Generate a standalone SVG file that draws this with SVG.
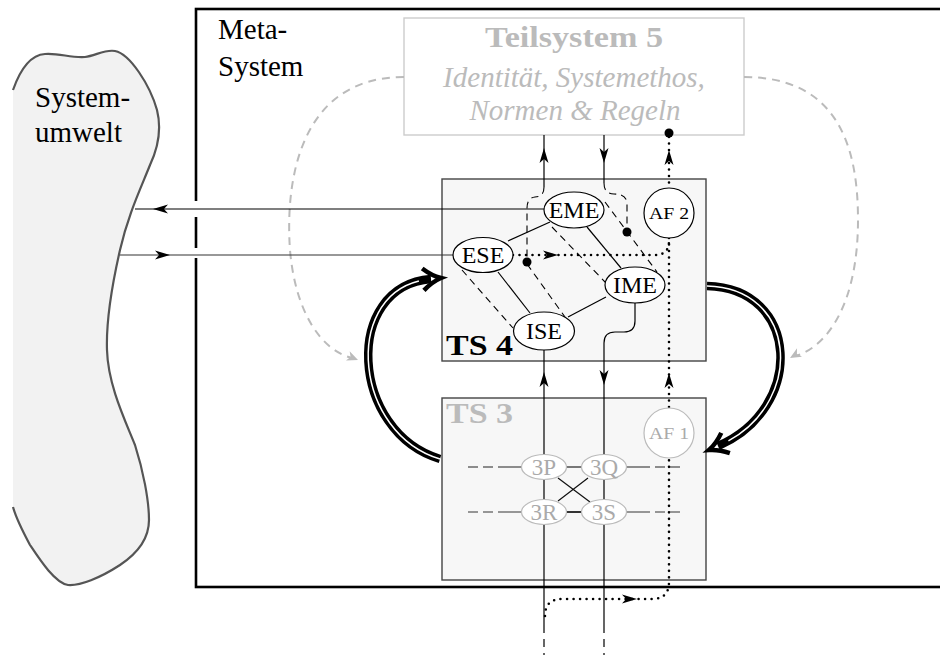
<svg xmlns="http://www.w3.org/2000/svg" xmlns:xlink="http://www.w3.org/1999/xlink" width="940" height="655" viewBox="0 0 940 655">
<style>
.t{font-family:"Liberation Serif","Times New Roman",serif;}
.thin{stroke:#000;stroke-width:1.2;fill:none}
.dash{stroke:#000;stroke-width:1.1;fill:none;stroke-dasharray:7 5}
.dot{stroke:#000;stroke-width:2.6;stroke-linecap:round;stroke-dasharray:0 6.5;fill:none}
.gdash{stroke:#bbb;stroke-width:2;stroke-dasharray:8 6;fill:none}
.node{fill:#fff;stroke:#000;stroke-width:1.2}
.gnode{fill:#fff;stroke:#bbb;stroke-width:1.2}
.lbl{font-family:"Liberation Serif","Times New Roman",serif;font-size:24px;text-anchor:middle}
.glbl{font-family:"Liberation Serif","Times New Roman",serif;font-size:23px;text-anchor:middle;fill:#aaa}
.box{fill:#f7f7f7;stroke:#444;stroke-width:1.4}
</style>
<defs>
<path id="ah" d="M0,0 L-15,-4.5 L-11,0 L-15,4.5 Z" fill="#000"/>
<path id="gah" d="M0,0 L-11,-5 L-8,0 L-11,5 Z" fill="#bbb"/>
<path id="bah" d="M-18,-11 Q-9,-3 0,0 Q-9,3 -18,11" fill="none" stroke="#000" stroke-width="4.5"/>
</defs>

<g id="umwelt">
<path d="M13,90 C20,70 30,55 45,54 C60,53 70,58 85,57 C95,56 105,49 115,51 C130,54 150,85 157,110 C162,130 157,150 150,165 C140,190 128,215 120,250 C112,285 106,320 107,350 C108,385 125,420 135,445 C143,470 149,500 149,520 C149,540 135,555 120,565 C100,578 80,586 68,585 C55,583 40,560 30,545 C22,530 16,518 13,507 Z" fill="#f2f2f2" stroke="none"/>
<path d="M13,90 C20,70 30,55 45,54 C60,53 70,58 85,57 C95,56 105,49 115,51 C130,54 150,85 157,110 C162,130 157,150 150,165 C140,190 128,215 120,250 C112,285 106,320 107,350 C108,385 125,420 135,445 C143,470 149,500 149,520 C149,540 135,555 120,565 C100,578 80,586 68,585 C55,583 40,560 30,545 C22,530 16,518 13,507" fill="none" stroke="#555" stroke-width="2.2"/>
<text class="t" x="35" y="107" font-size="29">System-</text>
<text class="t" x="35" y="142" font-size="29">umwelt</text>
</g>

<g id="metasystem">
<rect x="196" y="9" width="760" height="578" fill="none" stroke="#000" stroke-width="2.6"/>
<rect x="192" y="201" width="8" height="16" fill="#fff"/>
<rect x="192" y="248" width="8" height="10" fill="#fff"/>
<text class="t" x="218" y="39" font-size="29">Meta-</text>
<text class="t" x="218" y="76" font-size="29">System</text>
</g>

<g id="ts5">
<rect x="404" y="18" width="340" height="117" fill="#fff" stroke="#ccc" stroke-width="1.4"/>
<text class="t" x="574" y="47" font-size="29" font-weight="bold" text-anchor="middle" fill="#bbb" textLength="178" lengthAdjust="spacingAndGlyphs">Teilsystem 5</text>
<text class="t" x="574" y="87" font-size="29" font-style="italic" text-anchor="middle" fill="#bbb">Identität, Systemethos,</text>
<text class="t" x="575" y="120" font-size="29" font-style="italic" text-anchor="middle" fill="#bbb">Normen &amp; Regeln</text>
</g>

<g id="ts4">
<rect class="box" x="442" y="179" width="264" height="182"/>
<text class="t" x="446" y="355" font-size="29" font-weight="bold" textLength="67" lengthAdjust="spacingAndGlyphs">TS 4</text>
</g>

<g id="ts3">
<rect class="box" x="442" y="398" width="264" height="182"/>
<text class="t" x="446" y="423" font-size="29" font-weight="bold" fill="#bbb" textLength="67" lengthAdjust="spacingAndGlyphs">TS 3</text>
</g>

<g id="connectors">
<!-- gray dashed arcs -->
<path class="gdash" d="M404,77 C300,77 285,180 290,250 C295,310 320,350 352,358"/>
<use xlink:href="#gah" transform="translate(358,360) rotate(22)"/>
<path class="gdash" d="M744,77 C840,77 858,150 858,220 C858,300 830,345 796,356"/>
<use xlink:href="#gah" transform="translate(790,358) rotate(150)"/>

<!-- thick double arrows -->
<path d="M707,286 C800,288 806,408 718,446" fill="none" stroke="#000" stroke-width="8.5"/>
<path d="M707,286 C800,288 806,408 718,446" fill="none" stroke="#fff" stroke-width="1.5" pathLength="100" stroke-dasharray="95 100"/>
<use xlink:href="#bah" transform="translate(709,450) rotate(157)"/>
<path d="M440,459 C350,432 342,286 431,279" fill="none" stroke="#000" stroke-width="8.5"/>
<path d="M440,459 C350,432 342,286 431,279" fill="none" stroke="#fff" stroke-width="1.5" pathLength="100" stroke-dasharray="95 100"/>
<use xlink:href="#bah" transform="translate(441,278) rotate(-4.5)"/>

<!-- environment arrows -->
<path class="thin" d="M135,209 L544,209"/>
<use xlink:href="#ah" transform="translate(153,209) rotate(180)"/>
<path d="M120,255 L453,255" fill="none" stroke="#333" stroke-width="1.2"/>
<use xlink:href="#ah" transform="translate(170,255)"/>

<!-- TS5 <-> TS4 -->
<path class="thin" d="M544,135 L544,187"/>
<use xlink:href="#ah" transform="translate(544,148) rotate(-90)"/>
<path class="dash" d="M544,187 Q544,197 535,197 Q527,198 527,208 L527,262"/>
<path class="thin" d="M604,135 L604,183"/>
<use xlink:href="#ah" transform="translate(604,163) rotate(90)"/>
<path class="dash" d="M604,183 Q604,194 614,194 Q627,194 627,204 L627,232"/>

<!-- TS4 internal dashed -->
<path class="dash" d="M462,270 L513,328"/>
<path class="dash" d="M527,264 L565,317"/>
<path class="dash" d="M552,227 L606,283"/>
<path class="dash" d="M605,202 L657,272"/>
<!-- TS4 internal solid -->
<path class="thin" d="M550,222 L508,241"/>
<path class="thin" d="M587,227 L621,268"/>
<path class="thin" d="M498,272 L530,313"/>
<path class="thin" d="M606,297 L568,317"/>

<!-- vertical TS4 <-> TS3 -->
<path class="thin" d="M544,350 L544,625"/>
<use xlink:href="#ah" transform="translate(544,372) rotate(-90)"/>
<path class="thin" d="M635,303 L635,321 Q635,332 624,332 L615,332 Q604,332 604,343 L604,625"/>
<use xlink:href="#ah" transform="translate(604,385) rotate(90)"/>
<path d="M544,625 L544,655 M604,625 L604,655" fill="none" stroke="#000" stroke-width="1.2" stroke-dasharray="8 6"/>

<!-- dotted algedonic channel -->
<path class="dot" d="M669,137 L669,188"/>
<use xlink:href="#ah" transform="translate(669,150) rotate(-90)"/>
<path class="dot" d="M669,238 L669,408"/>
<path class="dot" d="M513,255 L655,255 Q669,255 669,241"/>
<use xlink:href="#ah" transform="translate(558,255)"/>
<use xlink:href="#ah" transform="translate(669,373) rotate(-90)"/>
<path class="dot" d="M545,616 Q545,599 562,599 L652,599 Q669,599 669,582 L669,458"/>
<use xlink:href="#ah" transform="translate(637,599)"/>

<!-- TS3 internal -->
<path d="M468,467 L522,467 M680,467 L627,467" fill="none" stroke="#222" stroke-width="1.2" stroke-dasharray="10 5 10 5 40"/>
<path d="M566,467 L582,467" fill="none" stroke="#222" stroke-width="1.2"/>
<path d="M468,512 L522,512 M680,512 L627,512" fill="none" stroke="#777" stroke-width="1.5" stroke-dasharray="10 5 10 5 40"/>
<path d="M566,512 L582,512" fill="none" stroke="#333" stroke-width="2"/>
<path d="M558,478 L590,502 M588,478 L558,501" fill="none" stroke="#111" stroke-width="1.2"/>
</g>

<g id="EME"><ellipse class="node" cx="574" cy="210" rx="30" ry="18"/><text class="lbl" x="574" y="218">EME</text></g>
<g id="ESE"><ellipse class="node" cx="483" cy="255" rx="30" ry="17.5"/><text class="lbl" x="483" y="263">ESE</text></g>
<g id="IME"><ellipse class="node" cx="635" cy="285" rx="30" ry="18"/><text class="lbl" x="635" y="293">IME</text></g>
<g id="ISE"><ellipse class="node" cx="544" cy="331" rx="30.5" ry="19"/><text class="lbl" x="544" y="339">ISE</text></g>
<g id="AF2"><circle class="node" cx="669" cy="213" r="25"/><text class="t" x="669" y="219" font-size="16.5" text-anchor="middle" textLength="40" lengthAdjust="spacingAndGlyphs">AF 2</text></g>
<g id="AF1"><circle class="gnode" cx="669" cy="433" r="25"/><text class="t" x="669" y="439" font-size="16.5" text-anchor="middle" fill="#aaa" textLength="40" lengthAdjust="spacingAndGlyphs">AF 1</text></g>
<g id="P3"><ellipse class="gnode" cx="544" cy="467" rx="22.5" ry="12.5"/><text class="glbl" x="544" y="475">3P</text></g>
<g id="Q3"><ellipse class="gnode" cx="604" cy="467" rx="22.5" ry="12.5"/><text class="glbl" x="604" y="475">3Q</text></g>
<g id="R3"><ellipse class="gnode" cx="544" cy="512" rx="22.5" ry="12.5"/><text class="glbl" x="544" y="520">3R</text></g>
<g id="S3"><ellipse class="gnode" cx="604" cy="512" rx="22.5" ry="12.5"/><text class="glbl" x="604" y="520">3S</text></g>

<g id="dots">
<circle cx="527" cy="262" r="4.5" fill="#000"/>
<circle cx="627" cy="232" r="4.5" fill="#000"/>
<circle cx="669" cy="133" r="4.5" fill="#000"/>
</g>
</svg>
